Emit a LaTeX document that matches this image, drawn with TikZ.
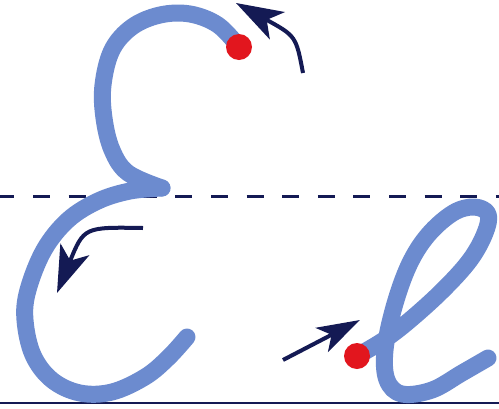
\documentclass[tikz,border=0pt]{standalone}
\usetikzlibrary{arrows.meta}
\definecolor{strokeblue}{RGB}{108,139,207}
\definecolor{dotred}{RGB}{226,22,30}
\definecolor{inknavy}{RGB}{20,26,84}

\begin{document}
\begin{tikzpicture}[
            x=1pt, y=-1pt,
            letter/.style={draw=strokeblue, line width=17pt, line cap=round, line join=round},
            dot/.style={fill=dotred},
            guide/.style={draw=inknavy, line width=3pt},
            hint/.style={draw=inknavy, line width=4pt, -{Stealth[length=47pt, width=31pt, inset=12pt]}}
        ]
            \fill[white] (0,0) rectangle (499,408);
            \useasboundingbox (0,0) rectangle (499,408);
            \draw[guide, dash pattern=on 17pt off 18.6pt, dash phase=2.6pt] (0,196) -- (499,196);
            \draw[guide, line width=2.5pt] (0,403) -- (499,403);
            \coordinate (startE) at (239,47);
            \coordinate (waist) at (162,188);
            \coordinate (starte) at (357,356);
            \draw[letter] plot[smooth, tension=0.6] coordinates {(startE) (218,25) (190,14) (160,15) (132,27) (112,50) (103,85) (104,118) (112,150) (128,173) (waist)};
            \draw[letter] plot[smooth, tension=0.6] coordinates {(waist) (130,191) (98,201) (68,220) (44,250) (28,290) (25,320) (33,355) (52,380) (80,393) (112,392) (145,377) (168,358) (187,337)};
            \draw[letter] plot[smooth, tension=0.6] coordinates {(starte) (384,340) (410,320) (443,290) (470,260) (485,233) (488,214) (474,207) (453,213) (428,235) (409,265) (394,307) (385,350) (387,380) (402,394) (432,390) (462,373) (488,358)};
            \fill[dot] (startE) circle (13);
            \fill[dot] (starte) circle (13);
            \coordinate (a1) at (303,73);
            \coordinate (b1) at (236,3);
            \coordinate (a2) at (143,228);
            \coordinate (b2) at (57,293);
            \coordinate (a3) at (283,360);
            \coordinate (b3) at (360,320);
            \draw[hint] (a1) .. controls (296,36) .. (b1);
            \draw[hint] (a2) .. controls (84,227) .. (b2);
            \draw[hint, -{Stealth[length=43pt, width=27pt, inset=11pt]}] (a3) -- (b3);
        \end{tikzpicture}
\end{document}
